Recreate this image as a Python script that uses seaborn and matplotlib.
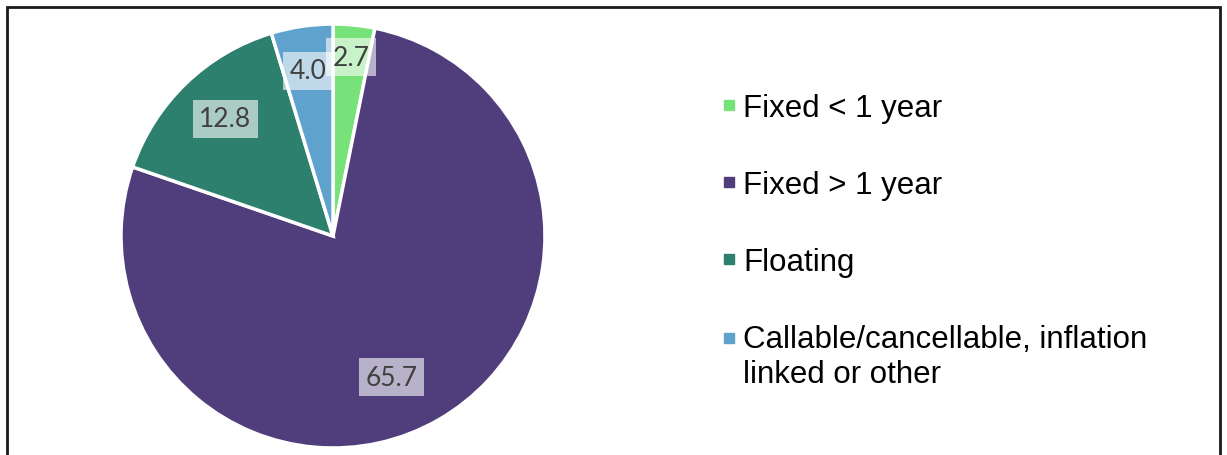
import numpy as np
import matplotlib
matplotlib.use("Agg")
import matplotlib.pyplot as plt
from matplotlib.lines import Line2D
from matplotlib.patches import Rectangle
import seaborn as sns

# Debt composition by interest-rate type
categories = ["Fixed < 1 year", "Fixed > 1 year", "Floating",
              "Callable/cancellable, inflation\nlinked or other"]
values = [2.7, 65.7, 12.8, 4.0]
value_labels = ["2.7", "65.7", "12.8", "4.0"]
colors = ["#78E27A", "#503E7C", "#2E806E", "#60A2CE"]

sns.set_theme(style="white")
palette = sns.color_palette(colors)
plt.rcParams["font.family"] = ["Liberation Sans", "DejaVu Sans"]

W, H = 1227, 456
fig = plt.figure(figsize=(W / 100, H / 100), dpi=100)

# Pie axes: centre (333, 237) px, radius 212 px
cx, cy, r = 333, 237, 212
ax = fig.add_axes([(cx - r) / W, 1 - (cy + r) / H, 2 * r / W, 2 * r / H])
wedges, _ = ax.pie(values, colors=palette, startangle=90, counterclock=False,
                   radius=1.0,
                   wedgeprops=dict(edgecolor="white", linewidth=2.5))
ax.set_xlim(-1, 1)
ax.set_ylim(-1, 1)
ax.set_aspect("equal")
ax.axis("off")

# Value labels inside the slices (same order as values)
label_r = [0.86, 0.71, 0.76, 0.80]
label_nudge = [0, -7, -2, 0]
for w, txt, rr, dn in zip(wedges, value_labels, label_r, label_nudge):
    ang = np.deg2rad((w.theta1 + w.theta2) / 2 + dn)
    ax.text(rr * np.cos(ang), rr * np.sin(ang) - 0.012, txt,
            ha="center", va="center",
            fontsize=19, color="#404040", family=["Lato", "DejaVu Sans"],
            bbox=dict(boxstyle="square,pad=0.25", facecolor="white",
                      edgecolor="none", alpha=0.6))

# Legend with small square keys
fs = 22.5
lsp = 1.25
handles = [Line2D([0], [0], marker="s", linestyle="none", markersize=7.5,
                  markerfacecolor=c, markeredgecolor=c) for c in palette]
leg = fig.legend(handles, categories, loc="upper left",
                 bbox_to_anchor=(721 / W, 1 - 94 / H), frameon=False,
                 fontsize=fs, labelspacing=1.5, handlelength=0.5,
                 handletextpad=0.2, borderpad=0, borderaxespad=0)
for t in leg.get_texts():
    t.set_color("black")
    t.set_linespacing(lsp)

# Key of the two-line entry sits beside its first line
for h, lab in zip(leg.legend_handles, categories):
    n_lines = lab.count("\n") + 1
    if n_lines > 1:
        shift = (n_lines - 1) * fs * lsp / 2
        h.set_ydata([y + shift for y in h.get_ydata()])

# Chart border
fig.add_artist(Rectangle((7 / W, -0.05), (1220 - 7) / W, 1.05 - 8 / H,
                         transform=fig.transFigure, fill=False,
                         edgecolor="#1a1a1a", linewidth=2))

fig.savefig("out.png", dpi=100)
